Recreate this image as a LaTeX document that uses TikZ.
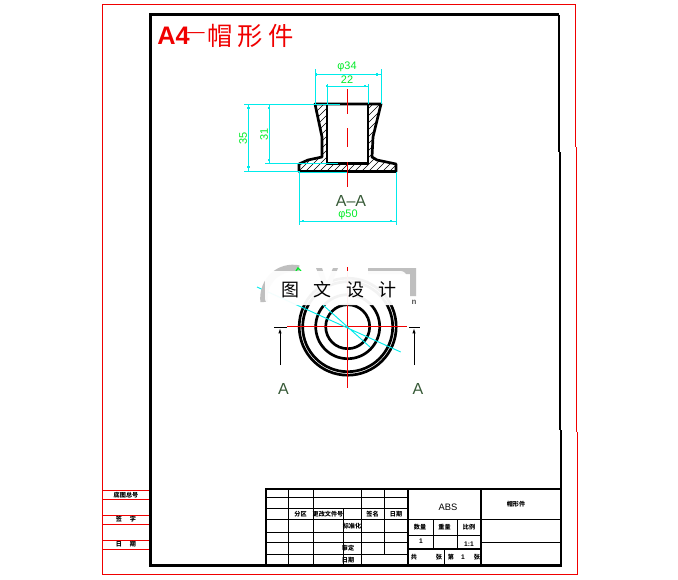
\documentclass[tikz,border=0pt]{standalone}
\usepackage{fontspec}
\setmainfont{Liberation Sans}
\newfontfamily\cjk{Noto Sans CJK SC}
\usetikzlibrary{arrows.meta}
\definecolor{dimc}{RGB}{0,235,235}
\definecolor{dimt}{RGB}{0,235,40}
\definecolor{redl}{RGB}{240,0,0}
\definecolor{agreen}{RGB}{55,90,55}
\tikzset{x=0.75pt,y=-0.75pt,
 redframe/.style={draw=redl,line width=0.7pt},
 thickl/.style={draw=black,line width=2.2pt},
 thin/.style={draw=black,line width=0.7pt},
 med/.style={draw=black,line width=1.4pt},
 part/.style={draw=black,line width=2pt,line join=round},
 dimline/.style={draw=dimc,line width=0.7pt},
 dimtick/.style={fill=dimc,inner sep=0pt,minimum size=2.2pt},
 center/.style={draw=redl,line width=0.75pt},
 dimtext/.style={text=dimt,font=\fontsize{8.2}{9}\selectfont,inner sep=0pt},
 ttext/.style={font=\cjk\fontsize{4.6}{5}\selectfont\bfseries,inner sep=0pt},
 atext/.style={text=agreen,font=\fontsize{12}{13}\selectfont,inner sep=0pt},
 titlec/.style={text=redl,font=\cjk\fontsize{19}{20}\selectfont,inner sep=0pt}}
\begin{document}
\begin{tikzpicture}
\useasboundingbox (0,0) rectangle (678,579);
\fill[white] (0,0) rectangle (678,579);
% red outer frame
\draw[redframe] (577,432) -- (577,574.5) -- (102,574.5) -- (102,4.5) -- (575,4.5) -- (575,147);
\draw[redframe] (576,147) -- (576,432);
\draw[redframe] (102,490)--(149,490) (102,499)--(149,499) (102,515)--(149,515) (102,524)--(149,524) (102,540)--(149,540) (102,549)--(149,549);
% black frame
\draw[thickl] (559,14.5) -- (150.5,14.5) -- (150.5,565.5) -- (561,565.5) -- (561,430);
\draw[thickl] (559,14.5) -- (559,152);
\draw[thickl] (560,152) -- (560,430);
% title block
\draw[thickl] (266,566) -- (266,489) -- (561,489);
\draw[med] (408,489)--(408,566) (481,489)--(481,566) (266,519.5)--(561,519.5);
\draw[thin] (266,497)--(408,497) (266,508)--(408,508) (266,532)--(408,532) (266,542)--(408,542) (266,554)--(408,554);
\draw[thin] (288,489)--(288,566) (313,489)--(313,566) (343,508)--(343,566) (361,489)--(361,566) (384,489)--(384,554);
\draw[thin] (408,535.5)--(481,535.5) (433,520)--(433,549) (457,520)--(457,549) (444,549)--(444,566) (481,542)--(561,542);
\draw[med] (408,549)--(481,549);
% block texts
\node[ttext] (t1) at (300.5,514) {分区};
\node[ttext] (t2) at (328,514) {更改文件号};
\node[ttext] (t3) at (372.5,514) {签名};
\node[ttext] (t4) at (396,514) {日期};
\node[ttext] (t5) at (352,526) {标准化};
\node[ttext] (t6) at (348,548) {审定};
\node[ttext] (t7) at (348,560) {日期};
\node[font=\fontsize{7}{8}\selectfont,inner sep=0pt] (t8) at (448,507) {ABS};
\node[ttext] (t9) at (516,504) {帽形件};
\node[ttext] (t10) at (420,527) {数量};
\node[ttext] (t11) at (444.5,527) {重量};
\node[ttext] (t12) at (469,527) {比例};
\node[font=\fontsize{5}{6}\selectfont\bfseries,inner sep=0pt] (t13) at (421,541) {1};
\node[font=\fontsize{5}{6}\selectfont\bfseries,inner sep=0pt] (t14) at (469,544) {1:1};
\node[ttext] (t15) at (414,557) {共};
\node[ttext] (t16) at (439,557) {张};
\node[ttext] (t17) at (451,557) {第};
\node[font=\fontsize{5}{6}\selectfont\bfseries,inner sep=0pt] (t18) at (463,557) {1};
\node[ttext] (t19) at (477,557) {张};
\node[ttext] (t20) at (126,495) {底图总号};
\node[ttext] (t21) at (126,519) {签\hspace{6pt}字};
\node[ttext] (t22) at (126,544) {日\hspace{6pt}期};
% title
\node[text=redl,inner sep=0pt,anchor=west,font=\fontsize{19}{20}\selectfont\bfseries] (title) at (157,36) {A4};
\node[text=redl,inner sep=0pt,font=\fontsize{13}{14}\selectfont] (tdash) at (196,35) {—};
\node[titlec] (tc1) at (220,36) {帽};
\node[titlec] (tc2) at (250,36) {形};
\node[titlec] (tc3) at (281,36) {件};
% section view
\begin{scope}
\clip (315,104)--(327,104)--(327,163)--(368,163)--(368,104)--(381,104)--(373,137)--(372,157)--(377,160)--(396,163)--(396,172)--(299,172)--(299,164)--(308,160)--(322,157)--(322,137)--cycle;
\foreach \hx in {220,227,...,470}{\draw[black,line width=0.5pt] (\hx,180)--(\hx+80,100);}
\end{scope}
\draw[part] (315,104)--(381,104)--(373,137)--(372,157)--(377,160)--(396,164)--(396,171.5)--(299,171.5)--(299,164)--(308,160)--(322,157)--(322,137)--cycle;
\draw[part] (327,104)--(327,163.5)--(368,163.5)--(368,104);
\draw[center] (347,89)--(347,114) (347,128)--(347,147) (347,162)--(347,187);
% dimensions
\draw[dimline] (315,69)--(315,104) (381,69)--(381,104) (315,74.5)--(381,74.5);
\draw[dimline] (327,84)--(327,104) (368,84)--(368,104) (327,86)--(368,86);
\draw[dimline] (244,104.5)--(340,104.5) (244,171)--(300,171) (248.5,104)--(248.5,171);
\draw[dimline] (265,163)--(338,163) (269,104)--(269,163);
\draw[dimline] (299,172)--(299,225) (396,172)--(396,225) (299,221)--(396,221) (300,172.5)--(347,172.5);
\node[dimtick] (d1) at (316,74.5) {}; \node[dimtick] (d2) at (377,74.5) {};
\node[dimtick] (d3) at (327,86) {}; \node[dimtick] (d4) at (365,86) {};
\node[dimtick] (d5) at (248.5,108) {}; \node[dimtick] (d6) at (248.5,167) {};
\node[dimtick] (d7) at (269,108) {}; \node[dimtick] (d8) at (269,160) {};
\node[dimtick] (d9) at (303,221) {}; \node[dimtick] (d10) at (391,221) {};
\node[dimtext] (l1) at (347,67) {φ34};
\node[dimtext] (l2) at (347,80) {22};
\node[dimtext,rotate=90] (l3) at (243,138) {35};
\node[dimtext,rotate=90] (l4) at (264,134) {31};
\node[dimtext] (l5) at (348,215) {φ50};
\node[atext] (l6) at (351,201) {A–A};
% plan view
\coordinate (c) at (347.7,326.7);
\draw[part] (c) circle[radius=22];
\draw[part] (c) circle[radius=32];
\draw[part] (c) circle[radius=45];
\draw[part] (c) circle[radius=48.5];
\draw[center] (287,326.7)--(407,326.7) (347.7,267)--(347.7,388);
\draw[dimline] (257,287)--(400.7,352) (323,305)--(370,347);
\draw[black,line width=0.75pt] (274,327)--(287,327) (409,327)--(420,327);
\draw[black,line width=0.75pt,-{Latex[length=4pt,width=2.5pt]}] (280,365)--(280,328);
\draw[black,line width=0.75pt,-{Latex[length=4pt,width=2.5pt]}] (414,365)--(414,328);
\node[atext] (a1) at (283.5,389) {A};
\node[atext] (a2) at (418,389) {A};
% watermark
\draw[gray!50,line width=5.5pt] (299,269) .. controls (280,265) and (262,280) .. (264,302);
\fill[gray!50] (316,268)--(322,268)--(327,282)--(333,268)--(338,268)--(330,288)--(324,288)--cycle;
\fill[gray!50] (368,268)--(416,268)--(416,296)--(410,296)--(410,274)--(368,274)--cycle;
\draw[dimt,line width=1pt] (296,271)--(298,268)--(301,271);
\node[gray!70!black,font=\fontsize{6}{7}\selectfont\bfseries,inner sep=0pt] (wn) at (414,302) {n};
\node[fill=white,fill opacity=0.95,rounded corners=5pt,minimum width=106.5pt,inner sep=0pt,minimum height=25.5pt] (wm) at (336,288) {};
\node[font=\cjk\fontsize{13.5}{14}\selectfont,inner sep=0pt] (wt) at (339,290) {图\hspace{11pt}文\hspace{11pt}设\hspace{11pt}计};
\end{tikzpicture}
\end{document}
